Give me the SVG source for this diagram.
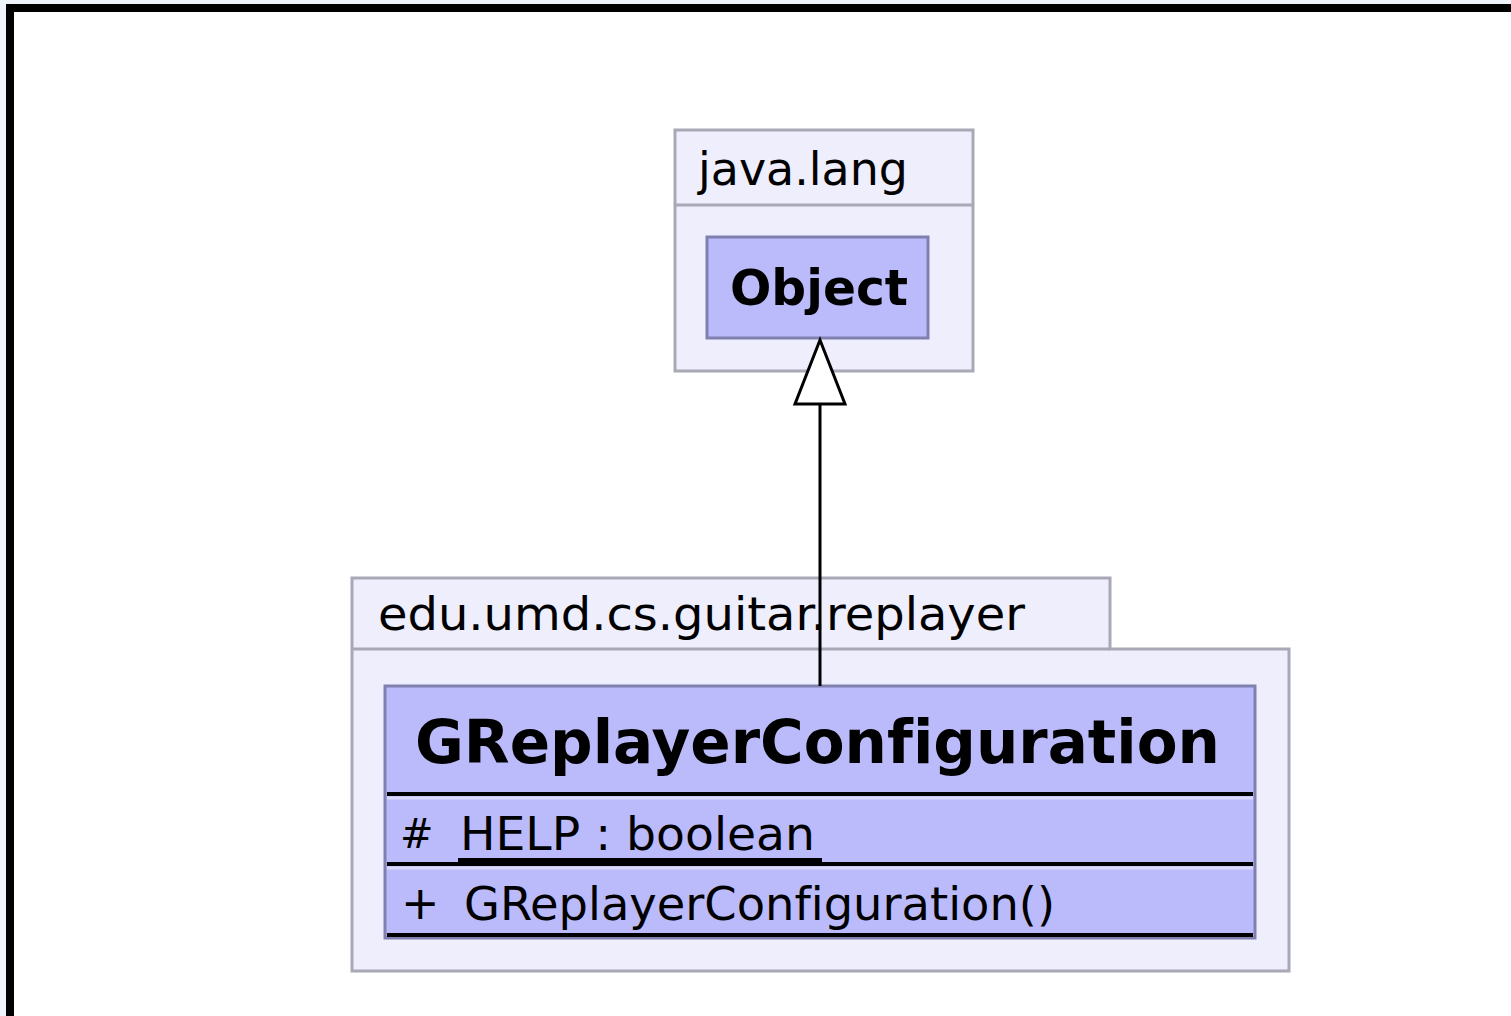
<svg xmlns="http://www.w3.org/2000/svg" width="1511" height="1016" viewBox="0 0 1511 1016">
<style>
.pkg{fill:#eeeefc;stroke:#a8a8b6;stroke-width:3}
.cls{fill:#bbbbfb;stroke:#8080b0;stroke-width:3}
.sep{stroke:#000;stroke-width:4}
.sepl{stroke:#dadaff;stroke-width:3}
.t{font-family:"DejaVu Sans","Liberation Sans",sans-serif;fill:#000;font-variant-ligatures:none;font-feature-settings:"liga" 0}
.r{font-size:46px}
.b{font-size:50px;font-weight:bold}
</style>
<rect x="0" y="0" width="1511" height="1016" fill="#eef4fa"/>
<rect x="10" y="8" width="1520" height="1030" fill="#fff" stroke="#000" stroke-width="8"/>
<g id="pkg-java-lang">
<rect class="pkg" x="675" y="130" width="298" height="241"/>
<line x1="675" y1="205" x2="973" y2="205" stroke="#a8a8b6" stroke-width="3"/>
<text class="t r" x="698" y="185" textLength="210" lengthAdjust="spacingAndGlyphs">java.lang</text>
</g>
<g id="node-object">
<rect class="cls" x="707" y="237" width="221" height="101"/>
<text class="t b" x="730" y="305" textLength="178" lengthAdjust="spacingAndGlyphs">Object</text>
</g>
<g id="pkg-replayer">
<path class="pkg" d="M352,649 V578 H1110 V649 H1289 V971 H352 Z"/>
<line x1="352" y1="649" x2="1110" y2="649" stroke="#a8a8b6" stroke-width="3"/>
<text class="t r" x="378" y="630" textLength="647" lengthAdjust="spacingAndGlyphs">edu.umd.cs.guitar.replayer</text>
</g>
<g id="node-greplayerconfiguration">
<rect class="cls" x="385" y="686" width="870" height="252"/>
<text class="t b" x="415" y="763" textLength="805" lengthAdjust="spacingAndGlyphs" style="font-size:60px">GReplayerConfiguration</text>
<line class="sep" x1="387" y1="794" x2="1253" y2="794"/>
<line class="sepl" x1="387" y1="798" x2="1253" y2="798"/>
<text class="t r" x="400" y="848" style="font-size:40px">#</text>
<text class="t r" x="460" y="850" textLength="355" lengthAdjust="spacingAndGlyphs">HELP : boolean</text>
<line x1="458" y1="860" x2="822" y2="860" stroke="#000" stroke-width="4"/>
<line class="sep" x1="387" y1="864" x2="1253" y2="864"/>
<line class="sepl" x1="387" y1="868" x2="1253" y2="868"/>
<text class="t r" x="401" y="919">+</text>
<text class="t r" x="464" y="920" textLength="591" lengthAdjust="spacingAndGlyphs">GReplayerConfiguration()</text>
<line class="sep" x1="387" y1="935" x2="1253" y2="935"/>
</g>
<g id="connectors">
<line x1="820" y1="404" x2="820" y2="686" stroke="#000" stroke-width="3"/>
<polygon points="820,340 795,404 845,404" fill="#fff" stroke="#000" stroke-width="3"/>
</g>
</svg>
